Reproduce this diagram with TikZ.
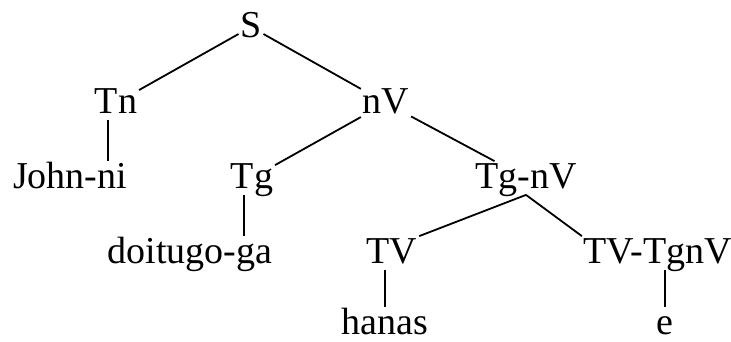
\documentclass[tikz,border=0pt]{standalone}
\usepackage{fontspec}
\setmainfont{Liberation Serif}
\begin{document}
\begin{tikzpicture}[x=1pt, y=-1pt, line width=1.8pt,
    cat/.style={inner sep=1pt, anchor=base, text height=25pt, text depth=5pt,
                font=\fontsize{38}{40}\selectfont}]
     \useasboundingbox (0,0) rectangle (731,341);

     % Root
     \node[cat] (S) at (251,37) {S};

     % Level 1
     \node[cat] (Tn) at (116,113) {Tn};
     \node[cat] (nV) at (386,113) {nV};

     % Level 2
     \node[cat] (john) at (70,188) {John-ni};
     \node[cat] (Tg) at (252,188) {Tg};
     \node[cat] (TgnV) at (526,188) {Tg-nV};

     % Level 3
     \node[cat] (doitugo) at (190,263) {doitugo-ga};
     \node[cat] (TV) at (392,263) {TV};
     \node[cat] (TVTgnV) at (658,263) {TV-TgnV};

     % Level 4
     \node[cat] (hanas) at (385,334) {hanas};
     \node[cat] (e) at (665,334) {e};

     % Branches
     \draw (S) -- (Tn);
     \draw (S) -- (nV);
     \draw (nV) -- (Tg);
     \draw (nV) -- (TgnV);
     \draw (TgnV.south) -- (TV.north east);
     \draw (TgnV.south) -- (TVTgnV.north west);

     % Straight down to the words
     \draw ([xshift=-8pt]Tn.south) -- ([xshift=-8pt]Tn.south |- john.north);
     \draw ([xshift=-8pt]Tg.south) -- ([xshift=-8pt]Tg.south |- doitugo.north);
     \draw (hanas.north |- TV.south) -- (hanas.north);
     \draw (e.north |- TVTgnV.south) -- (e.north);

\end{tikzpicture}
\end{document}
